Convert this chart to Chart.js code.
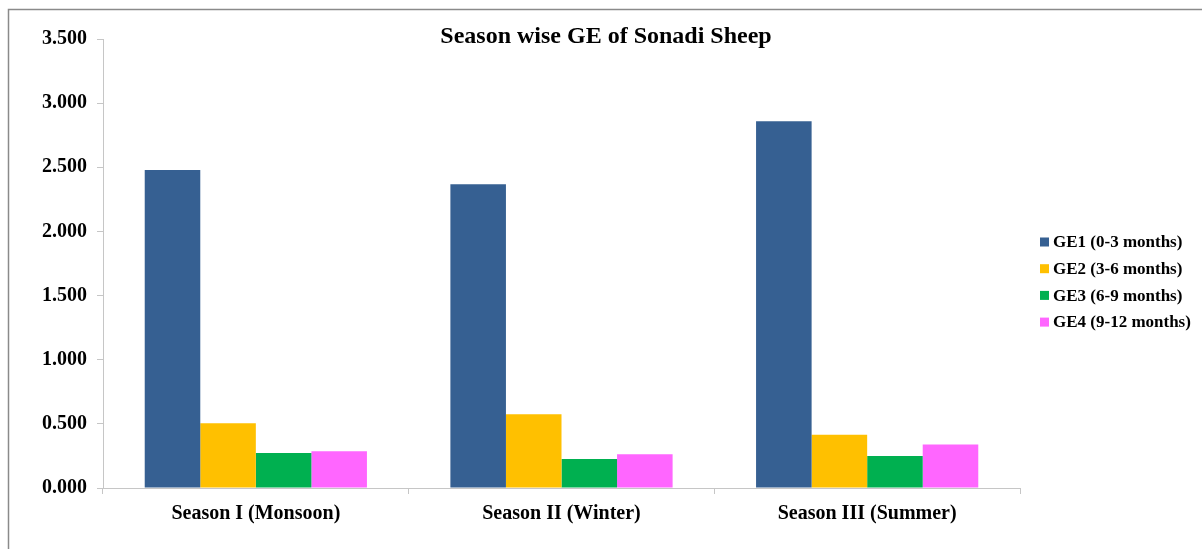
<!DOCTYPE html>
<html>
<head>
<meta charset="utf-8">
<script src="https://cdn.jsdelivr.net/npm/chart.js@4/dist/chart.umd.min.js"></script>
<style>
  html, body { margin: 0; padding: 0; background: #fff; }
  #wrap { width: 1202px; height: 549px; }
</style>
</head>
<body>
<div id="wrap"><canvas id="js-chart" width="1202" height="549"></canvas></div>
<script>
const SEASONS = ["Season I (Monsoon)", "Season II (Winter)", "Season III (Summer)"];
const SERIES_NAMES = ["GE1 (0-3 months)", "GE2 (3-6 months)", "GE3 (6-9 months)", "GE4 (9-12 months)"];
const GE1 = [2.479, 2.368, 2.858];
const GE2 = [0.505, 0.575, 0.416];
const GE3 = [0.273, 0.227, 0.249];
const GE4 = [0.286, 0.264, 0.34];
const COLORS = ["#366092", "#ffc000", "#00b050", "#ff66ff"];
const TITLE = "Season wise GE of Sonadi Sheep";

const SERIF = "'Liberation Serif', 'Times New Roman', serif";

// frame, title and legend drawn by hand
const decorations = {
  id: "decorations",
  afterDraw(chart) {
    const ctx = chart.ctx;
    ctx.save();
    ctx.strokeStyle = "#8a8a8a";
    ctx.lineWidth = 1.5;
    ctx.beginPath();
    ctx.moveTo(8.5, 549);
    ctx.lineTo(8.5, 9.5);
    ctx.lineTo(1202, 9.5);
    ctx.stroke();

    ctx.fillStyle = "#000";
    ctx.font = "bold 24px " + SERIF;
    ctx.textAlign = "center";
    ctx.textBaseline = "alphabetic";
    ctx.fillText(TITLE, 606, 43);

    ctx.font = "bold 17px " + SERIF;
    ctx.textAlign = "left";
    ctx.textBaseline = "middle";
    chart.data.datasets.forEach((ds, i) => {
      const y = 242 + i * 26.7;
      ctx.fillStyle = ds.backgroundColor;
      ctx.fillRect(1040, y - 4.5, 9, 9);
      ctx.fillStyle = "#000";
      ctx.fillText(ds.label, 1053, y + 1);
    });
    ctx.restore();
  },
};

const context = document.getElementById("js-chart").getContext("2d");

const geChart = new Chart(context, {
  type: "bar",
  data: {
    labels: SEASONS,
    datasets: [GE1, GE2, GE3, GE4].map((values, i) => ({
      label: SERIES_NAMES[i],
      data: values,
      backgroundColor: COLORS[i],
      borderWidth: 0,
      barPercentage: 1,
      categoryPercentage: 0.727,
    })),
  },
  options: {
    responsive: false,
    animation: false,
    layout: { padding: { top: 39, right: 182, bottom: 0, left: 0 } },
    plugins: {
      legend: { display: false },
      title: { display: false },
      tooltip: { enabled: false },
    },
    scales: {
      x: {
        offset: true,
        border: { color: "#c6c6c6", width: 1 },
        grid: { display: true, drawOnChartArea: false, offset: true, tickLength: 6, color: "#c6c6c6" },
        ticks: {
          color: "#000",
          padding: 8,
          font: { family: SERIF, size: 20, weight: "bold" },
        },
        afterFit(scale) {
          scale.height = 61;
        },
      },
      y: {
        min: 0,
        max: 3.5,
        border: { color: "#c6c6c6", width: 1 },
        grid: { display: true, drawOnChartArea: false, tickLength: 6, color: "#c6c6c6" },
        ticks: {
          stepSize: 0.5,
          color: "#000",
          padding: 10,
          font: { family: SERIF, size: 20, weight: "bold" },
          callback: function (value) {
            return value.toFixed(3);
          },
        },
        afterFit(scale) {
          scale.width = 103;
        },
      },
    },
  },
  plugins: [decorations],
});
</script>
</body>
</html>
